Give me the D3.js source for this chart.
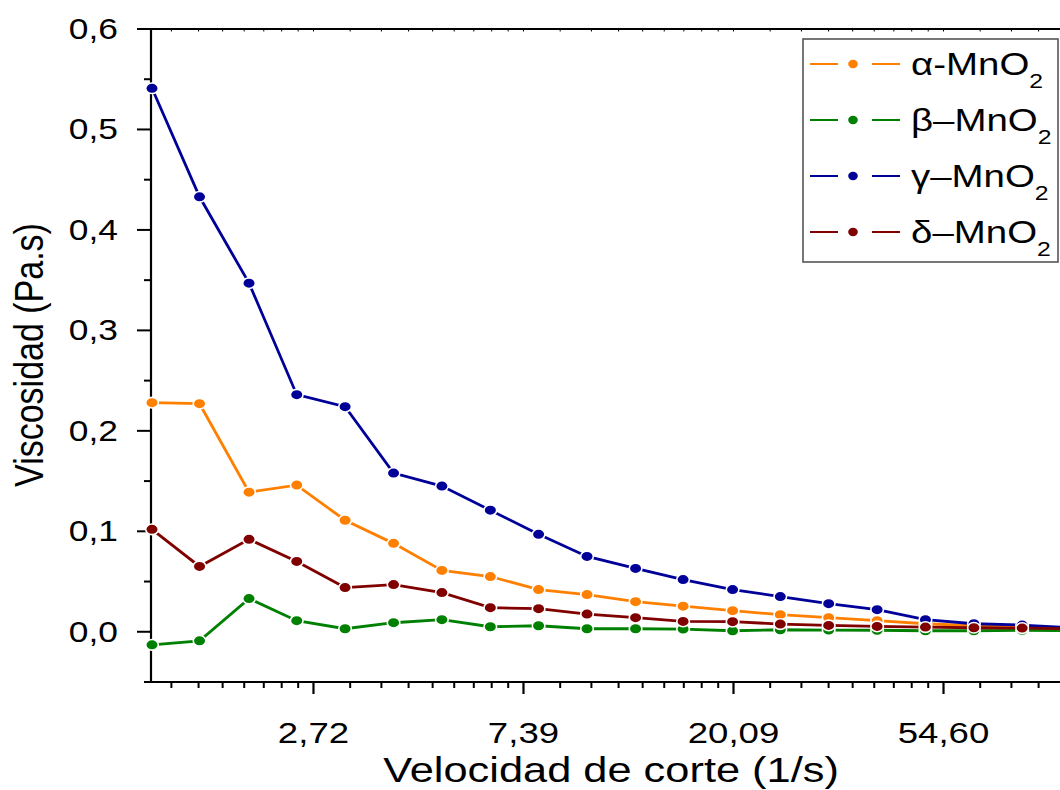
<!DOCTYPE html>
<head>
<style>
* { font-family: "Liberation Sans", Arial, sans-serif; }
body { margin: 0; background: #fff; }
svg { display: block; overflow: hidden; }
</style>
</head>
<body>
<svg width="1060" height="790"></svg>
<script src="https://cdnjs.cloudflare.com/ajax/libs/d3/7.8.5/d3.min.js"></script>
<script>

// shear rate (1/s)
var shear = [1.26, 1.58, 2.00, 2.51, 3.16, 3.98, 5.01, 6.31, 7.94, 10.0,
             12.6, 15.8, 20.0, 25.1, 31.6, 39.8, 50.1, 63.1, 79.4, 100];

var alpha = [0.228, 0.227, 0.139, 0.146, 0.111, 0.088, 0.061, 0.055, 0.042, 0.037,
             0.030, 0.0255, 0.021, 0.017, 0.014, 0.011, 0.008, 0.006, 0.005, 0.004];
var beta  = [-0.013, -0.009, 0.033, 0.011, 0.003, 0.009, 0.012, 0.005, 0.006, 0.003,
             0.003, 0.0027, 0.001, 0.002, 0.0017, 0.0015, 0.001, 0.001, 0.0015, 0.001];
var gamma = [0.541, 0.433, 0.347, 0.236, 0.224, 0.158, 0.145, 0.121, 0.097, 0.075,
             0.063, 0.052, 0.042, 0.035, 0.028, 0.022, 0.012, 0.008, 0.0067, 0.004];
var delta = [0.102, 0.065, 0.092, 0.070, 0.044, 0.047, 0.039, 0.024, 0.023, 0.0176,
             0.014, 0.0103, 0.010, 0.0077, 0.0063, 0.0053, 0.0047, 0.004, 0.0037, 0.003];

var names  = ["\u03b1", "\u03b2", "\u03b3", "\u03b4"];
var dashes = ["-", "\u2013", "\u2013", "\u2013"];
var colors = ["#ff8000", "#008000", "#000099", "#800000"];
var series = [alpha, beta, gamma, delta];

var yTicks = [0, 0.1, 0.2, 0.3, 0.4, 0.5, 0.6];
var xTicks = [1, 2, 3, 4]; // exponents of e
var fmtComma = function(v, n) { return v.toFixed(n).replace(".", ","); };

var svg = d3.select("svg");
var pLeft = 151, pTop = 29, pBottom = 682, pRight = 1070.6;
var sx = 1.22; // text is a bit wide in the original

var x = d3.scaleLog().base(Math.E).domain([1.254, 100]).range([pLeft, pRight]);
var y = d3.scaleLinear().domain([-0.05, 0.6]).range([pBottom, pTop]);

// minor x ticks: 8 linear steps between e^n and e^(n+1)
var xMinor = [];
for (var n = 0; n < 5; n++) {
  var a = Math.exp(n), b = Math.exp(n + 1);
  for (var k = 1; k < 9; k++) xMinor.push(a + k * (b - a) / 9);
}
xMinor = xMinor.filter(function(v) { return v > 1.254 && v < 100; });
var yMinor = d3.range(-0.05, 0.6, 0.1).map(function(v) { return +v.toFixed(2); });

var ax = svg.append("g").attr("stroke", "#000");
// axis lines
ax.append("line").attr("x1", 144).attr("x2", 1060).attr("y1", pBottom).attr("y2", pBottom).attr("stroke-width", 2.2);
ax.append("line").attr("x1", 137).attr("x2", 1060).attr("y1", pTop).attr("y2", pTop).attr("stroke-width", 2.2);
ax.append("line").attr("x1", pLeft).attr("x2", pLeft).attr("y1", pTop).attr("y2", pBottom).attr("stroke-width", 2.2);

// y ticks
ax.selectAll(".ym").data(yTicks).enter().append("line")
  .attr("x1", 137).attr("x2", pLeft).attr("y1", d => y(d)).attr("y2", d => y(d)).attr("stroke-width", 2);
ax.selectAll(".yn").data(yMinor).enter().append("line")
  .attr("x1", 144).attr("x2", pLeft).attr("y1", d => y(d)).attr("y2", d => y(d)).attr("stroke-width", 2);

// x ticks
ax.selectAll(".xm").data(xTicks).enter().append("line")
  .attr("x1", d => x(Math.exp(d))).attr("x2", d => x(Math.exp(d)))
  .attr("y1", pBottom).attr("y2", 694).attr("stroke-width", 2.2);
ax.selectAll(".xn").data(xMinor).enter().append("line")
  .attr("x1", d => x(d)).attr("x2", d => x(d))
  .attr("y1", pBottom).attr("y2", 688).attr("stroke-width", 2);
// top ticks (tiny)
ax.selectAll(".xt").data(xMinor.concat(xTicks.map(Math.exp))).enter().append("line")
  .attr("x1", d => x(d)).attr("x2", d => x(d))
  .attr("y1", pTop).attr("y2", pTop + 2.5).attr("stroke-width", 1);

// tick labels
svg.selectAll(".yl").data(yTicks).enter().append("text")
  .attr("transform", d => "translate(118," + (y(d) + 10) + ") scale(" + sx + ",1)")
  .attr("text-anchor", "end").attr("font-size", 29).text(d => fmtComma(d, 1));
svg.selectAll(".xl").data(xTicks).enter().append("text")
  .attr("transform", d => "translate(" + x(Math.exp(d)) + ",743) scale(" + sx + ",1)")
  .attr("text-anchor", "middle").attr("font-size", 30).text(d => fmtComma(Math.exp(d), 2));

// titles
svg.append("text").attr("transform", "translate(611,782) scale(1.24,1)").attr("text-anchor", "middle")
  .attr("font-size", 35).text("Velocidad de corte (1/s)");
svg.append("text").attr("transform", "translate(43,355) scale(" + sx + ",1) rotate(-90)").attr("text-anchor", "middle")
  .attr("font-size", 34).text("Viscosidad (Pa.s)");

// series
var line = d3.line().x((d, i) => x(shear[i])).y(d => y(d));
series.forEach(function(s, j) {
  var g = svg.append("g");
  g.append("path").attr("d", line(s)).attr("fill", "none")
    .attr("stroke", colors[j]).attr("stroke-width", 2.8);
  g.selectAll("ellipse").data(s).enter().append("ellipse")
    .attr("cx", (d, i) => x(shear[i])).attr("cy", d => y(d)).attr("rx", 6.3).attr("ry", 5.3)
    .attr("fill", colors[j]).attr("stroke", "#fff").attr("stroke-width", 1.6);
});

// legend
var lg = svg.append("g");
lg.append("rect").attr("x", 803).attr("y", 39).attr("width", 255).attr("height", 223)
  .attr("fill", "#fff").attr("stroke", "#555").attr("stroke-width", 1.6);
names.forEach(function(nm, j) {
  var cy = 64 + j * 56;
  lg.append("line").attr("x1", 810).attr("x2", 838).attr("y1", cy).attr("y2", cy)
    .attr("stroke", colors[j]).attr("stroke-width", 2);
  lg.append("line").attr("x1", 872).attr("x2", 900).attr("y1", cy).attr("y2", cy)
    .attr("stroke", colors[j]).attr("stroke-width", 2);
  lg.append("ellipse").attr("cx", 853).attr("cy", cy).attr("rx", 4.8).attr("ry", 4.2).attr("fill", colors[j]);
  var t = lg.append("text").attr("transform", "translate(911," + (cy + 11) + ") scale(1.24,1)")
    .attr("font-size", 31);
  t.append("tspan").attr("font-family", "Liberation Serif, serif").text(nm);
  t.append("tspan").text(dashes[j] + "MnO");
  t.append("tspan").attr("font-size", 20).attr("dy", 13).text("2");
});

</script>
</body>
